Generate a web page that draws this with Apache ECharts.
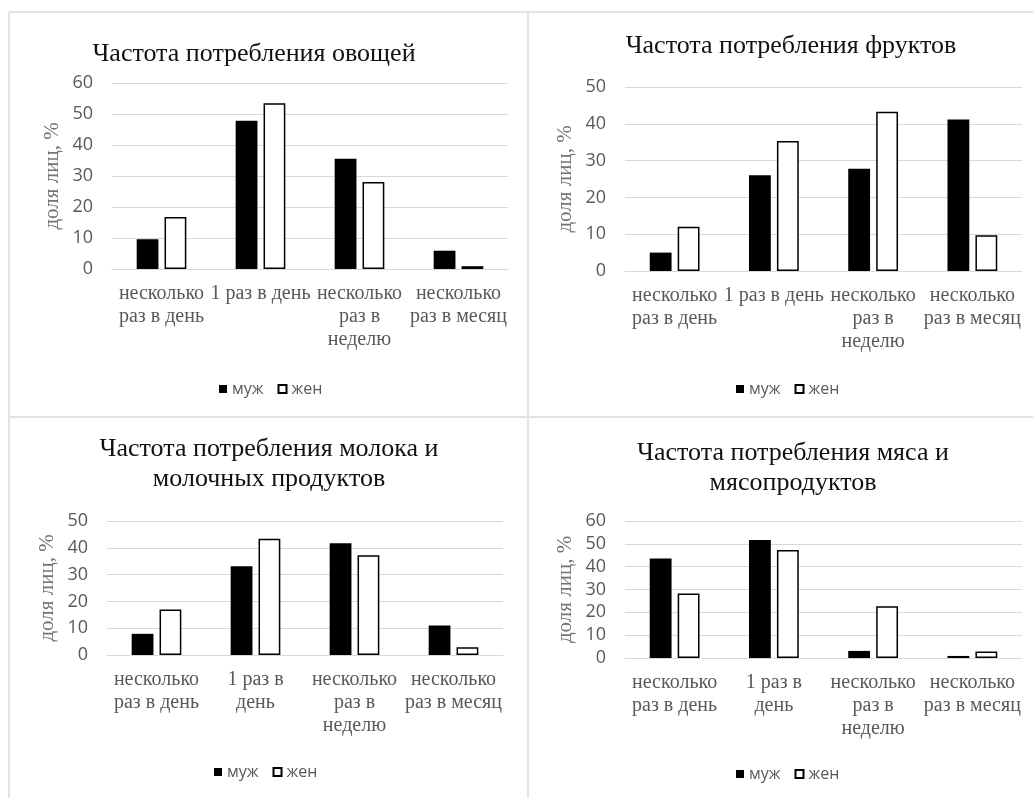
<!DOCTYPE html>
<html>
<head>
<meta charset="utf-8">
<script src="https://cdn.jsdelivr.net/npm/echarts@6/dist/echarts.min.js"></script>
<style>
  html, body { margin: 0; padding: 0; background: #fff; }
  #chart { width: 1033px; height: 798px; }
</style>
</head>
<body>
<div id="chart"></div>
<script>
// Survey: how often men and women eat each food group (share of respondents, %)
const seriesNames = ['муж', 'жен'];

// Category tick labels, broken into lines the way each panel shows them
const labelsWide = ['несколько\nраз в день', '1 раз в день', 'несколько\nраз в\nнеделю', 'несколько\nраз в месяц'];
const labelsNarrow = ['несколько\nраз в день', '1 раз в\nдень', 'несколько\nраз в\nнеделю', 'несколько\nраз в месяц'];

const titles = [
  'Частота потребления овощей',
  'Частота потребления фруктов',
  'Частота потребления молока и\nмолочных продуктов',
  'Частота потребления мяса и\nмясопродуктов'
];
const yAxisName = 'доля лиц, %';

const vegMale = [9.6, 47.8, 35.6, 5.9];
const vegFemale = [16.8, 53.5, 28.1, 0.9];
const fruitMale = [5.0, 26.0, 27.8, 41.2];
const fruitFemale = [12.0, 35.3, 43.3, 9.7];
const dairyMale = [7.9, 33.1, 41.7, 11.0];
const dairyFemale = [17.0, 43.4, 37.2, 2.9];
const meatMale = [43.6, 51.7, 3.1, 0.9];
const meatFemale = [28.3, 47.3, 22.7, 2.9];

const yMax = [60, 50, 50, 60];
const yStep = 10;

const serif = '"Liberation Serif", "Times New Roman", serif';
const sans = '"Open Sans", "Noto Sans", sans-serif';
const gray = '#595959';
const gridGray = '#d9d9d9';

// panel layout
const panels = [
  { grid: { left: 112, right: 525, top: 83, bottom: 529 }, labels: labelsWide,
    title: { x: 249, y: 34 }, legend: { x: 214, y: 376 }, male: vegMale, female: vegFemale },
  { grid: { left: 625, right: 11, top: 87, bottom: 527 }, labels: labelsWide,
    title: { x: 786, y: 26 }, legend: { x: 731, y: 376 }, male: fruitMale, female: fruitFemale },
  { grid: { left: 107, right: 530, top: 521, bottom: 143 }, labels: labelsNarrow,
    title: { x: 264, y: 429 }, legend: { x: 209, y: 759 }, male: dairyMale, female: dairyFemale },
  { grid: { left: 625, right: 11, top: 521, bottom: 140 }, labels: labelsNarrow,
    title: { x: 788, y: 433 }, legend: { x: 731, y: 761 }, male: meatMale, female: meatFemale }
];

const option = {
  animation: false,
  backgroundColor: '#fff',
  title: panels.map((p, i) => ({
    text: titles[i],
    left: p.title.x,
    top: p.title.y,
    textAlign: 'center',
    textStyle: { fontFamily: serif, fontSize: 26, fontWeight: 'normal', color: '#111', lineHeight: 30 }
  })),
  legend: panels.map(p => ({
    data: seriesNames,
    left: p.legend.x,
    top: p.legend.y,
    orient: 'horizontal',
    itemWidth: 8,
    itemHeight: 8,
    itemGap: 14,
    icon: 'rect',
    selectedMode: false,
    textStyle: { fontFamily: sans, fontSize: 16, color: gray }
  })),
  grid: panels.map(p => Object.assign({ containLabel: false }, p.grid)),
  xAxis: panels.map((p, i) => ({
    type: 'category',
    gridIndex: i,
    data: p.labels,
    axisLine: { show: true, lineStyle: { color: gridGray, width: 1 } },
    axisTick: { show: false },
    axisLabel: {
      interval: 0,
      margin: 13,
      fontFamily: serif,
      fontSize: 20,
      lineHeight: 23,
      color: gray
    }
  })),
  yAxis: panels.map((p, i) => ({
    type: 'value',
    gridIndex: i,
    min: 0,
    max: yMax[i],
    interval: yStep,
    name: yAxisName,
    nameLocation: 'middle',
    nameRotate: 90,
    nameGap: 49,
    nameTextStyle: { fontFamily: serif, fontSize: 21, color: '#747474' },
    axisLine: { show: false },
    axisTick: { show: false },
    axisLabel: { margin: 19, fontFamily: sans, fontSize: 18, color: gray },
    splitLine: { show: true, lineStyle: { color: gridGray, width: 1 } }
  })),
  series: panels.flatMap((p, i) => [
    {
      name: seriesNames[0], type: 'bar', xAxisIndex: i, yAxisIndex: i,
      data: p.male, barWidth: '22%', barGap: '28%',
      itemStyle: { color: '#000' }
    },
    {
      name: seriesNames[1], type: 'bar', xAxisIndex: i, yAxisIndex: i,
      data: p.female, barWidth: '22%', barGap: '28%',
      itemStyle: { color: '#fff', borderColor: '#000', borderWidth: 1.5 }
    }
  ]),
  // frame lines separating the four panels
  graphic: [
    { type: 'line', shape: { x1: 9, y1: 12, x2: 1033, y2: 12 }, style: { stroke: '#e2e2e2', lineWidth: 2 } },
    { type: 'line', shape: { x1: 9, y1: 12, x2: 9, y2: 798 }, style: { stroke: '#e2e2e2', lineWidth: 2 } },
    { type: 'line', shape: { x1: 528, y1: 12, x2: 528, y2: 798 }, style: { stroke: '#e2e2e2', lineWidth: 2 } },
    { type: 'line', shape: { x1: 9, y1: 417, x2: 1033, y2: 417 }, style: { stroke: '#e2e2e2', lineWidth: 2 } }
  ]
};

const chart = echarts.init(document.getElementById('chart'), null, { renderer: 'canvas' });
chart.setOption(option);
</script>
</body>
</html>
